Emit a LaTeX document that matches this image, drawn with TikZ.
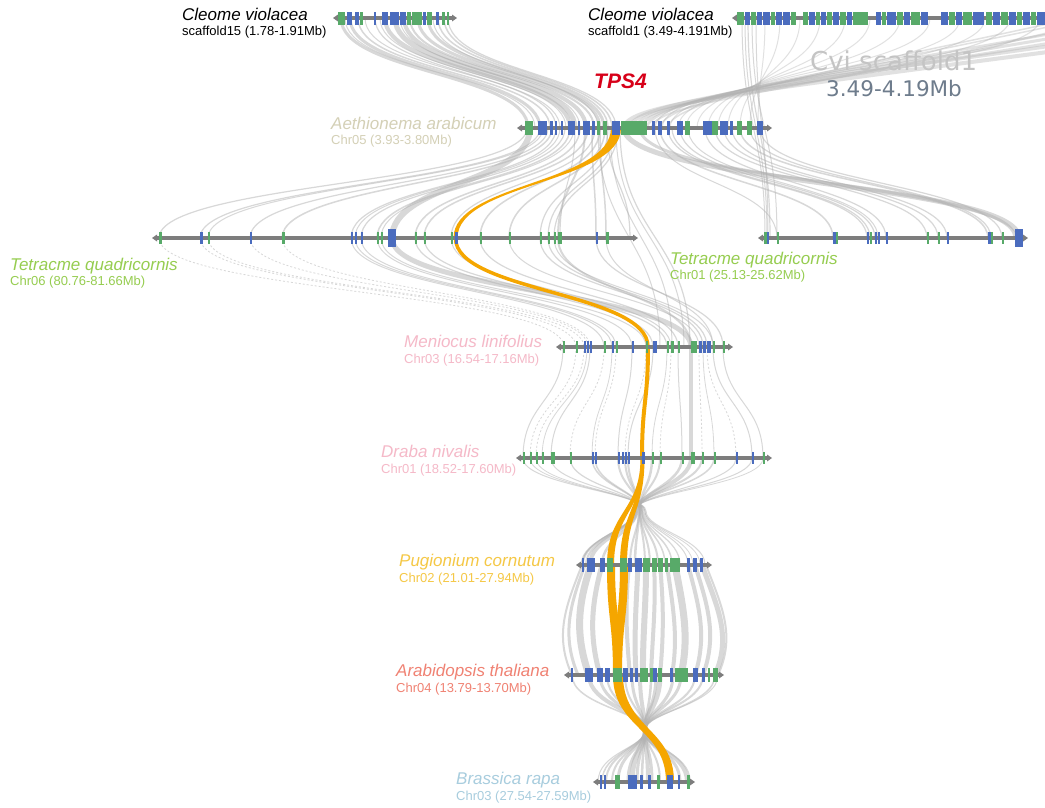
\documentclass[tikz,border=0pt]{standalone}
\usepackage{fontspec}
\setmainfont{Liberation Sans}
\newfontfamily\dvfont{DejaVu Sans}

\definecolor{linkgray}{RGB}{178,178,178}
\definecolor{tpsorange}{RGB}{245,166,0}
\definecolor{tpsred}{RGB}{215,0,25}
\definecolor{gB}{RGB}{75,108,190}
\definecolor{gG}{RGB}{88,170,105}
\definecolor{backbonec}{RGB}{125,125,125}
\definecolor{aethc}{RGB}{212,208,182}
\definecolor{tetc}{RGB}{150,205,80}
\definecolor{menc}{RGB}{245,185,200}
\definecolor{pugc}{RGB}{245,200,70}
\definecolor{arac}{RGB}{240,130,115}
\definecolor{brac}{RGB}{168,205,222}
\definecolor{cvigray}{RGB}{196,196,196}
\definecolor{cvislate}{RGB}{110,124,140}

% filled link whose width changes from one end to the other
\newcommand{\oribbon}[6]{%
  \fill[tpsorange] (#1,#3) .. controls (#1,{(#3+#6)/2}) and (#4,{(#3+#6)/2}) .. (#4,#6)
    -- (#5,#6) .. controls (#5,{(#3+#6)/2}) and (#2,{(#3+#6)/2}) .. (#2,#3) -- cycle;}

% chromosome segment: y, start, end, half gene height, genes (start/width/colour)
\newcommand{\drawtrack}[5]{%
  \draw[backbonec, line width=4.5pt] (#2,#1) -- (#3,#1);
  \fill[backbonec] ({#2-5},#1) -- (#2,{#1-3.5}) -- (#2,{#1+3.5}) -- cycle;
  \fill[backbonec] ({#3+5},#1) -- (#3,{#1-3.5}) -- (#3,{#1+3.5}) -- cycle;
  \foreach \gx/\gw/\gc in {#5}
    \fill[\gc] (\gx,{#1-#4}) rectangle ({\gx+\gw},{#1+#4});}

\begin{document}
\begin{tikzpicture}[x=1pt,y=-1pt,
  lnk/.style={draw=linkgray, opacity=0.5},
  flnk/.style={draw=linkgray, opacity=0.38},
  dlnk/.style={draw=linkgray, opacity=0.5, dash pattern=on 2pt off 2pt},
  spname/.style={anchor=base west, inner sep=0pt, font=\fontsize{17}{20}\selectfont\itshape},
  subname/.style={anchor=base west, inner sep=0pt, font=\fontsize{13}{15}\selectfont}]

\useasboundingbox (0,0) rectangle (1045,807);
\fill[white] (0,0) rectangle (1045,807);

\begin{scope}
\clip (0,0) rectangle (1045,807);

% ---------- grey syntenic links ----------
% scaffold15 -> Aethionema
\foreach \a/\b/\w in {341/528/3, 345/535/1, 350/540/3, 358/550/1.5, 365/560/1,
  375/556/1.2, 380/566/1, 385/570/4, 395/575/5, 400/580/1, 404/586/4, 410/594/2,
  418/600/3, 428/604/3, 433/598/1, 438/608/1.5, 444/612/1.5, 448/616/1.2}
  \draw[lnk, line width=\w] (\a,18) .. controls (\a,73) and (\b,73) .. (\b,128);

% scaffold1 -> Aethionema (within view)
\foreach \a/\b/\w in {1040/655/1.2, 1010/662/1.2, 985/670/1, 960/678/1,
  930/686/1, 900/697/1, 870/708/1, 845/718/1, 820/728/1, 800/740/1, 780/750/1, 765/758/1}
  \draw[flnk, line width=\w] (\a,18) .. controls (\a,73) and (\b,73) .. (\b,128);

% scaffold1 (beyond the right edge) -> Aethionema
\foreach \b/\a/\c/\w in {624/1300/88/4, 630/1250/82/3.5, 636/1200/86/3, 642/1170/80/3,
  647/1140/76/2.5, 652/1110/90/2, 660/1090/74/1.5, 668/1075/70/1.5}
  \draw[flnk, line width=\w] (\b,128) .. controls (\b,100) and ({\b+170},\c) .. (\a,18);

% scaffold1 -> Tetracme Chr01
\foreach \a/\b/\w in {742/765/1, 745/767/1, 748/770/1.2, 752/777/1, 756/768/1}
  \draw[lnk, line width=\w] (\a,18) .. controls (\a,128) and (\b,128) .. (\b,238);

% Aethionema -> Tetracme Chr06
\foreach \a/\b/\w in {527/159/1.2, 530/392/6, 540/200/1.2, 543/208/1, 548/250/1.2,
  552/282/1.5, 556/351/1.2, 560/355/1, 565/361/1.2, 570/377/1.5, 574/381/1,
  580/415/1.5, 588/424/1.5, 595/451/1.2, 600/480/1.5, 605/509/1.5, 608/540/1.2,
  614/548/1.2, 618/554/1.2, 585/558/2, 592/596/1.5, 600/606/1.5, 607/630/1.2, 575/560/1}
  \draw[lnk, line width=\w] (\a,128) .. controls (\a,183) and (\b,183) .. (\b,238);

% Aethionema -> Tetracme Chr01
\foreach \a/\b/\w in {624/1019/5, 640/1015/3, 655/777/1, 660/833/1.5, 668/867/1.2,
  672/870/1.2, 680/875/1.2, 688/878/1, 705/886/1.2, 715/927/1.2, 724/938/1.2,
  732/947/1.2, 740/988/1.5, 750/991/1.2, 760/1002/1.2}
  \draw[lnk, line width=\w] (\a,128) .. controls (\a,183) and (\b,183) .. (\b,238);

% Aethionema -> Meniocus
\foreach \a/\b/\w in {598/660/1, 610/672/1, 616/684/1, 620/690/1.2}
  \draw[lnk, line width=\w] (\a,128) .. controls (\a,237) and (\b,237) .. (\b,347);

% Tetracme Chr06 -> Meniocus
\foreach \a/\b in {159/564, 200/576, 208/584, 250/588, 282/590}
  \draw[dlnk, line width=0.8] (\a,238) .. controls (\a,292) and (\b,292) .. (\b,347);
\foreach \a/\b/\w in {351/604/1, 355/612/1, 361/616/1, 377/632/1, 381/646/1,
  392/691/5, 415/653/1.2, 424/667/1.2, 451/671/1, 480/678/1.2, 509/699/1,
  540/703/1.2, 548/707/1.2, 554/713/1, 558/691/2, 596/723/1.2, 606/713/1}
  \draw[lnk, line width=\w] (\a,238) .. controls (\a,292) and (\b,292) .. (\b,347);

% Meniocus -> Draba
\foreach \a/\b/\w in {563/523/1, 587/542/0.8, 590/551/1, 612/592/0.8, 632/618/1,
  653/628/1, 667/652/0.8, 678/682/1, 691/691/4, 703/714/0.8, 713/752/1, 723/763/1}
  \draw[lnk, line width=\w] (\a,347) .. controls (\a,402) and (\b,402) .. (\b,458);
\foreach \a/\b in {576/530, 584/536, 604/570, 616/595, 646/625, 671/660, 699/702, 707/736}
  \draw[dlnk, line width=0.8] (\a,347) .. controls (\a,402) and (\b,402) .. (\b,458);

% Draba -> Pugionium, through a narrow waist
\foreach \a/\b/\m/\w in {523/705/646/1, 530/700/645/0.8, 536/693/645/0.8,
  551/688/644/1, 570/680/643/1.2, 592/672/642/1.5, 595/665/642/1.5, 618/658/641/2,
  625/650/640/2, 628/645/640/2, 652/635/639/2.5, 660/630/639/2, 682/602/637/2.5,
  691/590/636/4, 702/586/636/2, 714/583/635/1.5, 736/582/635/1, 752/582/634/1, 763/581/634/0.8}
  \draw[lnk, line width=\w] (\a,458) .. controls (\a,485) and (\m,492) .. (\m,511)
    .. controls (\m,530) and (\b,538) .. (\b,565);

% Pugionium -> Arabidopsis, bulging outwards
\foreach \a/\b/\w in {582/572/2, 585/578/3, 591/589/7, 602/600/5, 629/630/4,
  638/636/5, 646/643/6, 654/651/4, 660/660/4, 667/672/4, 675/681/7, 688/695/4,
  695/703/4, 702/715/5, 706/718/2}
  \draw[lnk, line width=\w] (\a,565) .. controls ({\a+(\a-645)*0.25},605)
    and ({\b+(\b-645)*0.25},635) .. (\b,675);

% Arabidopsis -> Brassica, through a narrow waist
\foreach \a/\b/\w in {572/690/1.5, 589/687/4, 600/680/3, 607/673/2, 625/660/2,
  632/652/3, 640/648/4, 651/642/2.5, 656/637/3, 660/632/5, 673/628/3, 681/618/3,
  695/612/2, 703/606/2, 715/602/1.5, 718/598/1}
  \draw[lnk, line width=\w] (\a,675) .. controls (\a,705) and (645,712) .. (645,730)
    .. controls (645,748) and (\b,752) .. (\b,782);

% ---------- TPS4 links ----------
\oribbon{611}{621}{128}{453.5}{457.5}{238}
\draw[tpsorange, line width=3.5] (455.5,238) .. controls (455.5,292) and (648,292) .. (648,347);
\draw[tpsorange, line width=4] (648,347) .. controls (648,402) and (642,402) .. (642,458);
\oribbon{640.5}{644}{458}{607}{614}{565}
\oribbon{641}{644.5}{458}{620}{627}{565}
\oribbon{607}{615}{565}{613}{622}{675}
\oribbon{620}{628}{565}{613}{622}{675}
\oribbon{613}{623}{675}{666}{674}{782}

% ---------- chromosome segments ----------
\drawtrack{18}{338}{452}{6.5}{338/7/gG, 347/5/gB, 355/4/gB, 360/3/gG, 374/2/gB,
  382/6/gB, 390/9/gB, 400/6/gB, 407/4/gG, 412/10/gG, 423/3/gB, 427/5/gG,
  436/3/gB, 442/3/gG, 447/2/gG}
\drawtrack{18}{737}{1050}{6.5}{737/7/gG, 745/5/gB, 751/5/gG, 757/5/gB, 763/7/gB,
  771/4/gG, 776/6/gB, 783/7/gB, 791/5/gG, 803/5/gG, 809/6/gB, 816/4/gG, 821/5/gB,
  827/5/gG, 833/6/gB, 840/6/gG, 847/5/gB, 853/15/gG, 876/5/gB, 882/4/gG, 887/9/gB,
  897/6/gG, 904/6/gB, 911/9/gG, 921/7/gB, 941/7/gB, 949/6/gG, 956/6/gB, 963/9/gG,
  973/11/gB, 986/6/gG, 993/7/gB, 1001/7/gG, 1009/7/gB, 1017/5/gG, 1023/7/gB,
  1031/5/gG, 1037/10/gB}
\drawtrack{128}{522}{767}{7}{525/8/gG, 538/9/gB, 550/3/gB, 555/2/gB, 561/2/gB,
  568/7/gB, 578/2/gB, 583/7/gB, 592/3/gB, 597/3/gG, 603/4/gG, 612/8/gB, 621/26/gG,
  652/3/gB, 658/4/gB, 667/3/gB, 677/6/gB, 685/5/gG, 703/9/gB, 712/6/gG, 720/8/gB,
  730/3/gB, 737/5/gG, 747/5/gG, 757/6/gB}
\drawtrack{238}{157}{633}{6}{159/2.5/gG, 200/2.5/gB, 208/2/gG, 250/2/gB, 282/2.5/gG,
  351/2/gB, 355/2/gB, 361/2/gB, 377/2/gG, 381/2/gG, 415/2/gG, 424/2/gG, 451/2/gG,
  455/2.5/gB, 480/2/gG, 509/2/gG, 540/2/gG, 548/2/gG, 554/2/gG, 558/4/gG,
  596/2/gB, 606/2.5/gG}
\fill[gB] (388,229) rectangle (396,247);
\drawtrack{238}{763}{1023}{6}{764/2.5/gG, 767/2/gB, 777/2/gG, 833/3/gB, 836/2/gG,
  867/2/gB, 870/2/gG, 875/2/gB, 878/2/gB, 886/2/gB, 927/2/gG, 938/2/gG, 947/2/gB,
  988/3/gB, 991/2/gG, 1002/2/gG}
\fill[gB] (1015,229) rectangle (1023,247);
\drawtrack{347}{561}{728}{6}{563/2/gG, 576/2/gG, 584/2/gB, 587/2/gB, 590/2/gB,
  604/2/gG, 612/2/gB, 616/2/gG, 632/2/gB, 646/2/gG, 653/4/gB, 667/2/gG, 671/3/gG,
  678/2/gG, 691/6/gG, 699/3/gB, 703/3/gB, 707/4/gB, 713/2/gG, 723/2/gG}
\drawtrack{458}{521}{767}{6}{523/2/gG, 530/2/gG, 536/2/gG, 542/2/gG, 551/4/gG,
  570/2/gG, 592/2/gB, 595/2/gB, 618/2/gB, 622/2/gB, 625/2/gB, 628/2/gB, 642/3/gB,
  652/2/gG, 660/2/gG, 682/2/gG, 691/4/gG, 702/2/gG, 714/2/gG, 736/1.5/gB,
  752/2/gB, 763/2/gG}
\drawtrack{565}{581}{707}{7}{582/2/gB, 587/8/gB, 600/5/gB, 607/6/gG, 620/7/gG,
  628/4/gB, 635/7/gB, 643/7/gG, 652/5/gG, 658/5/gG, 665/3/gG, 670/10/gG,
  687/3/gB, 693/4/gB, 700/3/gB}
\drawtrack{675}{569}{719}{7}{571/2/gB, 585/8/gB, 597/6/gB, 605/5/gB, 613/9/gG,
  623/5/gB, 630/3/gB, 635/3/gB, 640/8/gG, 650/3/gG, 653/4/gB, 658/4/gG, 670/3/gB,
  675/13/gG, 693/5/gB, 702/3/gB, 708/2/gG, 713/5/gG}
\drawtrack{782}{598}{690}{7}{600/2/gB, 604/2/gB, 615/5/gG, 628/9/gB, 640/3/gB,
  648/3/gB, 657/3/gG, 667/6/gB, 678/1.5/gB, 687/3/gG}
\end{scope}

% ---------- labels ----------
\node[spname] (cv15) at (182,20) {Cleome violacea};
\node[subname] (cv15r) at (182,35) {scaffold15 (1.78-1.91Mb)};
\node[spname] (cv1) at (588,20) {Cleome violacea};
\node[subname] (cv1r) at (588,35) {scaffold1 (3.49-4.191Mb)};
\node[anchor=base west, inner sep=0pt, text=cvigray, font=\dvfont\fontsize{26}{30}\selectfont]
  (cvititle) at (810,70) {Cvi scaffold1};
\node[anchor=base west, inner sep=0pt, text=cvislate, font=\dvfont\fontsize{21.5}{25}\selectfont]
  (cvirange) at (826,96) {3.49-4.19Mb};
\node[anchor=base west, inner sep=0pt, text=tpsred, font=\fontsize{21}{25}\selectfont\bfseries\itshape]
  (tps) at (594,88) {TPS4};
\node[spname, text=aethc] (aeth) at (331,129) {Aethionema arabicum};
\node[subname, text=aethc] (aethr) at (331,144) {Chr05 (3.93-3.80Mb)};
\node[spname, text=tetc] (tetl) at (10,270) {Tetracme quadricornis};
\node[subname, text=tetc] (tetlr) at (10,285) {Chr06 (80.76-81.66Mb)};
\node[spname, text=tetc] (tetr) at (670,264) {Tetracme quadricornis};
\node[subname, text=tetc] (tetrr) at (670,279) {Chr01 (25.13-25.62Mb)};
\node[spname, text=menc] (men) at (404,347) {Meniocus linifolius};
\node[subname, text=menc] (menr) at (404,363) {Chr03 (16.54-17.16Mb)};
\node[spname, text=menc] (dra) at (381,457) {Draba nivalis};
\node[subname, text=menc] (drar) at (381,473) {Chr01 (18.52-17.60Mb)};
\node[spname, text=pugc] (pug) at (399,566) {Pugionium cornutum};
\node[subname, text=pugc] (pugr) at (399,582) {Chr02 (21.01-27.94Mb)};
\node[spname, text=arac] (ara) at (396,676) {Arabidopsis thaliana};
\node[subname, text=arac] (arar) at (396,692) {Chr04 (13.79-13.70Mb)};
\node[spname, text=brac] (bra) at (456,784) {Brassica rapa};
\node[subname, text=brac] (brar) at (456,800) {Chr03 (27.54-27.59Mb)};
\end{tikzpicture}
\end{document}
